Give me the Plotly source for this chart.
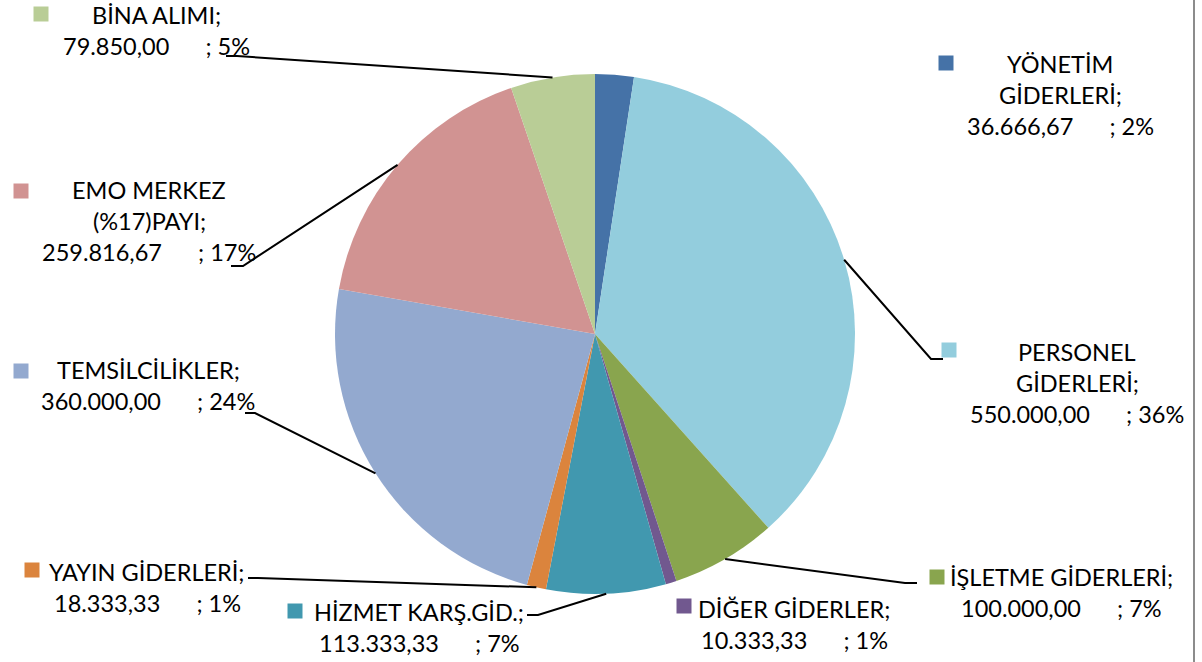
import math
import plotly.graph_objects as go

# ---------------- data ----------------
categories = ["YÖNETİM GİDERLERİ", "PERSONEL GİDERLERİ", "İŞLETME GİDERLERİ",
              "DİĞER GİDERLER", "HİZMET KARŞ.GİD.", "YAYIN GİDERLERİ",
              "TEMSİLCİLİKLER", "EMO MERKEZ (%17)PAYI", "BİNA ALIMI"]
values = [36666.67, 550000.00, 100000.00, 10333.33, 113333.33, 18333.33,
          360000.00, 259816.67, 79850.00]
label_lines = [["YÖNETİM", "GİDERLERİ;"], ["PERSONEL", "GİDERLERİ;"],
               ["İŞLETME GİDERLERİ;"], ["DİĞER GİDERLER;"], ["HİZMET KARŞ.GİD.;"],
               ["YAYIN GİDERLERİ;"], ["TEMSİLCİLİKLER;"], ["EMO MERKEZ", "(%17)PAYI;"],
               ["BİNA ALIMI;"]]

# ---------------- styles / layout ----------------
colors = ["#4572A7", "#93CDDD", "#89A54E", "#71588F", "#4198AF", "#DB843D",
          "#93A9CF", "#D19392", "#B9CD96"]
W, H = 1202, 662             # figure size
CX, CY, R = 595, 334, 260    # pie centre / radius in pixels
FONT = "Lato, 'Open Sans', sans-serif"
FS = 23.5
LINE_H = 31
GAP = 6                      # number of spaces between value and percent
# label block: (center x, first line center y, key square cx, key square cy)
label_pos = [(1060, 64, 946, 63), (1077, 352, 949, 350), (1061, 577, 937, 577),
             (794, 609, 684, 606), (419, 612, 295, 611), (147, 572, 32, 570),
             (148, 370, 21, 371), (149, 190, 21, 191), (156, 15, 41, 14)]
# leader: (elbow x, elbow y, end x) or None
leaders = [None, (931, 359, 943), (905, 583, 917), None, (538, 615, 527),
           (258, 578, 248), (255, 413, 245), (243, 266, 231), (237, 56, 226)]


def px(x):
    return x / W


def py(y):
    return 1 - y / H


def tr_num(v):
    s = f"{v:,.2f}"
    return s.replace(",", "X").replace(".", ",").replace("X", ".")


total = sum(values)
fig = go.Figure(go.Pie(
    labels=categories, values=values, sort=False, direction="clockwise",
    rotation=0, textinfo="none", hoverinfo="label+value+percent",
    marker=dict(colors=colors, line=dict(width=0)),
    domain=dict(x=[px(CX - R), px(CX + R)], y=[py(CY + R), py(CY - R)]),
    showlegend=False,
))

annotations = []
shapes = []
cum = 0.0
NB = "\u00a0"
for i, v in enumerate(values):
    frac = v / total
    mid = (cum + frac / 2) * 2 * math.pi
    cum += frac
    lx, ly, sx, sy = label_pos[i]
    lines = label_lines[i] + [f"{tr_num(v)}{NB * GAP}; {round(frac * 100)}%"]
    for k, t in enumerate(lines):
        annotations.append(dict(
            x=px(lx), y=py(ly + k * LINE_H), xref="paper", yref="paper",
            text=t, showarrow=False, xanchor="center", yanchor="middle",
            font=dict(family=FONT, size=FS, color="#000000")))
    shapes.append(dict(type="rect", xref="paper", yref="paper",
                       x0=px(sx - 7.5), x1=px(sx + 7.5),
                       y0=py(sy + 7.5), y1=py(sy - 7.5),
                       fillcolor=colors[i], line=dict(width=0)))
    if leaders[i] is not None:
        ex, ey, endx = leaders[i]
        x0 = CX + R * math.sin(mid)
        y0 = CY - R * math.cos(mid)
        path = (f"M {px(x0)},{py(y0)} L {px(ex)},{py(ey)} "
                f"L {px(endx)},{py(ey)}")
        shapes.append(dict(type="path", xref="paper", yref="paper", path=path,
                           line=dict(color="#000000", width=2)))

shapes.append(dict(type="line", xref="paper", yref="paper",
                   x0=px(1194), x1=px(1194), y0=0, y1=1,
                   line=dict(color="#8C8C8C", width=2)))

fig.update_layout(
    width=W, height=H, margin=dict(l=0, r=0, t=0, b=0),
    paper_bgcolor="white", plot_bgcolor="white",
    annotations=annotations, shapes=shapes,
)
fig.write_html(
    "out.html",
    config={"displayModeBar": False},
    post_script="document.body.style.margin='0';document.body.style.overflow='hidden';",
)
